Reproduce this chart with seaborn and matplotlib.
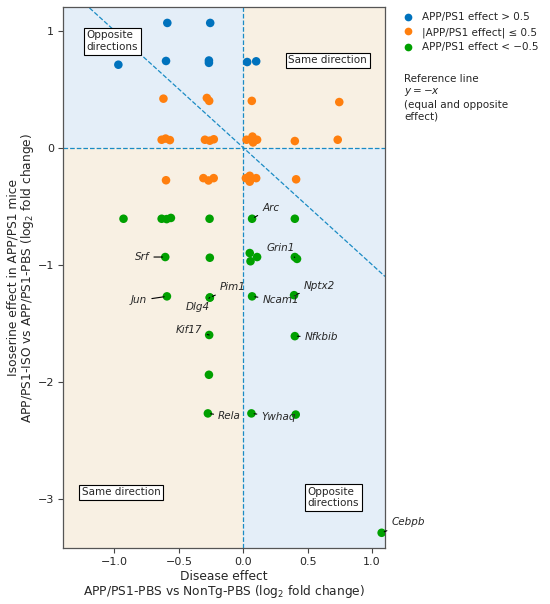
import numpy as np
import matplotlib
matplotlib.use("Agg")
import matplotlib.pyplot as plt
import seaborn as sns
import pandas as pd

# values
x_vals = [-0.59, -0.257, -0.60, -0.267, -0.267, -0.97, 0.03, 0.10,
          -0.62, -0.283, -0.265, 0.066, 0.745,
          -0.634, -0.603, -0.57, -0.298, -0.26, -0.229, 0.025, 0.071, 0.076, 0.107, 0.40, 0.733,
          -0.60, -0.31, -0.27, -0.23, 0.02, 0.05, 0.05, 0.10, 0.41,
          -0.93, -0.634, -0.595, -0.562, -0.262, 0.068, 0.40,
          -0.606, -0.26, 0.05, 0.056, 0.107, 0.40, 0.417,
          -0.593, -0.26, -0.26, 0.068, 0.394,
          -0.265, 0.40,
          -0.267, -0.275, 0.063, 0.407, 1.074]
y_vals = [1.066, 1.066, 0.741, 0.745, 0.725, 0.709, 0.732, 0.738,
          0.419, 0.425, 0.40, 0.40, 0.39,
          0.068, 0.078, 0.065, 0.068, 0.06, 0.072, 0.068, 0.095, 0.045, 0.068, 0.057, 0.068,
          -0.278, -0.26, -0.28, -0.26, -0.26, -0.24, -0.29, -0.26, -0.27,
          -0.607, -0.607, -0.61, -0.60, -0.607, -0.607, -0.607,
          -0.934, -0.94, -0.90, -0.97, -0.934, -0.934, -0.95,
          -1.27, -1.28, -1.28, -1.27, -1.26,
          -1.60, -1.61,
          -1.94, -2.27, -2.27, -2.28, -3.29]
genes = [""] * 8 + [""] * 5 + [""] * 12 + [""] * 9 + \
        ["", "", "", "", "", "Arc", ""] + \
        ["Srf", "", "", "", "", "", "Grin1"] + \
        ["Jun", "Pim1", "Dlg4", "Ncam1", "Nptx2"] + \
        ["Kif17", "Nfkbib"] + \
        ["", "Rela", "Ywhaq", "", "Cebpb"]

# where each gene label sits (text anchor, alignment)
label_pos = {
    "Arc": (0.146, -0.515, "left"),
    "Grin1": (0.18, -0.857, "left"),
    "Srf": (-0.73, -0.934, "right"),
    "Jun": (-0.746, -1.305, "right"),
    "Pim1": (-0.182, -1.194, "left"),
    "Dlg4": (-0.35, -1.365, "center"),
    "Ncam1": (0.149, -1.305, "left"),
    "Nptx2": (0.47, -1.185, "left"),
    "Kif17": (-0.316, -1.556, "right"),
    "Nfkbib": (0.477, -1.618, "left"),
    "Rela": (-0.195, -2.296, "left"),
    "Ywhaq": (0.141, -2.30, "left"),
    "Cebpb": (1.15, -3.20, "left"),
}

group_names = ["APP/PS1 effect > 0.5", "|APP/PS1 effect| \u2264 0.5", "APP/PS1 effect < \u22120.5"]
group_colors = ["#0072BD", "#FF7F0E", "#00A000"]

df = pd.DataFrame({"x": x_vals, "y": y_vals, "gene": genes})
df["group"] = np.select([df["y"] > 0.5, df["y"] < -0.5], [group_names[0], group_names[2]], group_names[1])

sns.set_style("ticks")
plt.rcParams["font.family"] = ["DejaVu Sans"]

fig = plt.figure(figsize=(5.5, 6.04), dpi=100)
ax = fig.add_axes([0.1145, 0.0927, 0.5855, 0.8953])

xmin, xmax = -1.4, 1.1
ymin, ymax = -3.42, 1.2
ax.set_xlim(xmin, xmax)
ax.set_ylim(ymin, ymax)

# quadrant shading
blue_bg = "#E4EEF8"
tan_bg = "#F8F0E3"
ax.fill_between([xmin, 0], 0, ymax, color=blue_bg, lw=0, zorder=0)
ax.fill_between([0, xmax], 0, ymax, color=tan_bg, lw=0, zorder=0)
ax.fill_between([xmin, 0], ymin, 0, color=tan_bg, lw=0, zorder=0)
ax.fill_between([0, xmax], ymin, 0, color=blue_bg, lw=0, zorder=0)

line_c = "#1A8BC4"
ax.axhline(0, color=line_c, ls="--", lw=0.9, zorder=1)
ax.axvline(0, color=line_c, ls="--", lw=0.9, zorder=1)
ax.plot([xmin, xmax], [-xmin, -xmax], color=line_c, ls="--", lw=0.9, zorder=1)

sns.scatterplot(data=df, x="x", y="y", hue="group", hue_order=group_names,
                palette=group_colors, s=38, edgecolor="none", ax=ax, zorder=3, legend=True)

for _, row in df[df["gene"] != ""].iterrows():
    tx, ty, ha = label_pos[row["gene"]]
    ax.annotate(row["gene"], xy=(row["x"], row["y"]), xytext=(tx, ty),
                ha=ha, va="center", fontsize=7.5, style="italic",
                arrowprops=dict(arrowstyle="-", color="black", lw=0.8,
                                shrinkA=1, shrinkB=2),
                annotation_clip=False, zorder=4)

box = dict(boxstyle="square,pad=0.25", facecolor="white", edgecolor="black", lw=0.8)
ax.text(-1.215, 0.91, "Opposite\ndirections", ha="left", va="center", fontsize=7.5, bbox=box, zorder=5)
ax.text(0.35, 0.748, "Same direction", ha="left", va="center", fontsize=7.5, bbox=box, zorder=5)
ax.text(-1.254, -2.944, "Same direction", ha="left", va="center", fontsize=7.5, bbox=box, zorder=5)
ax.text(0.50, -2.99, "Opposite\ndirections", ha="left", va="center", fontsize=7.5, bbox=box, zorder=5)

ax.set_xticks([-1.0, -0.5, 0.0, 0.5, 1.0])
ax.set_yticks([-3, -2, -1, 0, 1])
ax.tick_params(labelsize=8, length=3.5, width=0.8, pad=3, color="#444444")
for sp in ax.spines.values():
    sp.set_color("#555555")
    sp.set_linewidth(0.9)

ax.set_xlabel("Disease effect\nAPP/PS1-PBS vs NonTg-PBS (log$_2$ fold change)",
              fontsize=8.8, labelpad=2, linespacing=1.0)
ax.set_ylabel("Isoserine effect in APP/PS1 mice\nAPP/PS1-ISO vs APP/PS1-PBS (log$_2$ fold change)",
              fontsize=8.8, labelpad=1, linespacing=1.0)

ax.legend(loc="upper left", bbox_to_anchor=(0.705, 0.995), bbox_transform=fig.transFigure,
          frameon=False, fontsize=7.5, handletextpad=0.4, markerscale=0.9, labelspacing=0.45)

fig.text(0.735, 0.878, "Reference line\n$y = -x$\n(equal and opposite\neffect)",
         ha="left", va="top", fontsize=7.5, linespacing=1.25)

fig.savefig("out.png", dpi=100)
